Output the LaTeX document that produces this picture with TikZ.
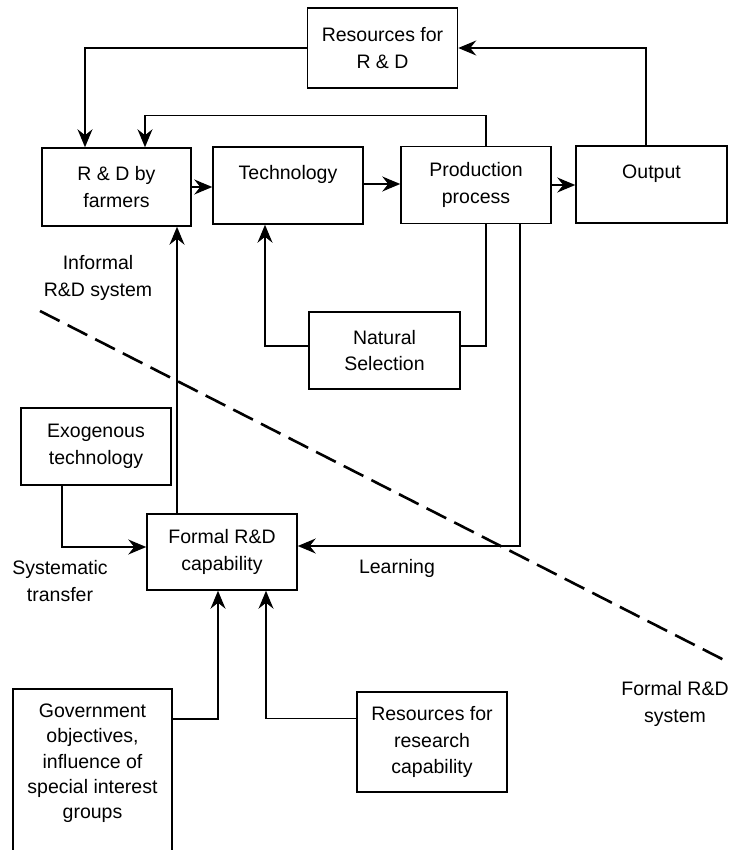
\documentclass[tikz,border=0pt]{standalone}
\usepackage{fontspec}
\setmainfont{Liberation Sans}
\usetikzlibrary{arrows.meta}
\begin{document}
\begin{tikzpicture}[x=1pt,y=-1pt,
  box/.style={draw, line width=1.5pt, minimum width=150pt, minimum height=77pt, inner sep=0pt, align=center},
  lbl/.style={align=center, inner sep=0pt},
  arr/.style={line width=1.4pt, -{Stealth[length=18pt,width=15pt,inset=6pt]}},
  ln/.style={line width=1.4pt},
  dashline/.style={line width=2.6pt, dash pattern=on 22pt off 9pt},
  font=\fontsize{19.5}{26.5}\selectfont]
\path[use as bounding box] (0,0) rectangle (732,850);
\clip (0,0) rectangle (732,850);

% boxes
\node[box, minimum height=80pt] (res) at (382.5,48) {Resources for\\R \& D};
\node[box, minimum width=149pt, minimum height=78pt] (rdf) at (116.5,187) {R \& D by\\farmers};
\node[box] (tech) at (288,185.5) {Technology\\\mbox{}};
\node[box] (prod) at (476,185) {Production\\process};
\node[box, minimum width=151pt] (out) at (651.5,184.5) {Output\\\mbox{}};
\node[box, minimum width=151pt] (nat) at (384.5,350.5) {Natural\\Selection};
\node[box] (exo) at (96,446.5) {Exogenous\\technology};
\node[box, minimum height=76pt] (formal) at (222,552) {Formal R\&D\\capability};
\node[box, minimum height=100pt] (research) at (432,742) {Resources for\\research\\capability};
\node[draw, line width=1.5pt, minimum width=159pt, minimum height=200pt, inner sep=0pt, anchor=north] (govbox) at (92.5,688) {};
\node[lbl, font=\fontsize{19.5}{25.3}\selectfont] (gov) at (92.5,763.5) {Government\\objectives,\\influence of\\special interest\\groups};

% free labels
\node[lbl] (informal) at (98,278) {Informal\\R\&D system};
\node[lbl] (systransfer) at (60,581) {Systematic\\transfer};
\node[lbl] (learning) at (397,568) {Learning};
\node[lbl] (formalsys) at (675,704) {Formal R\&D\\system};

% dashed boundary
\coordinate (d1) at (40,311);
\coordinate (d2) at (726,661);
\draw[dashline] (d1) -- (d2);

% connectors
\draw[arr] (res.west) -| ([xshift=-31.5pt]rdf.north);
\draw[arr] ([xshift=-5.5pt]out.north) |- (res.east);
\draw[arr] ([xshift=10pt]prod.north) -- ++(0,-30) -| ([xshift=28.5pt]rdf.north);
\draw[arr] (rdf.east) -- (rdf.east -| tech.west);
\draw[arr] ([yshift=1.5pt]tech.east) -- ([yshift=1.5pt]tech.east -| prod.west);
\draw[arr] (prod.east) -- (prod.east -| out.west);
\draw[ln] ([xshift=10pt]prod.south) |- ([yshift=4.5pt]nat.east);
\draw[arr] ([yshift=4.5pt]nat.west) -| ([xshift=-23pt]tech.south);
\draw[arr] ([xshift=44pt]prod.south) |- ([yshift=6pt]formal.east);
\draw[arr] ([xshift=-45pt]formal.north) -- ([xshift=-45pt]formal.north |- rdf.south);
\draw[arr] ([xshift=-34pt]exo.south) |- ([yshift=5pt]formal.west);
\draw[arr] ([yshift=-31pt]govbox.north east) -| ([xshift=-4pt]formal.south);
\draw[arr] ([yshift=-27pt]research.north west) -| ([xshift=44pt]formal.south);
\end{tikzpicture}
\end{document}
